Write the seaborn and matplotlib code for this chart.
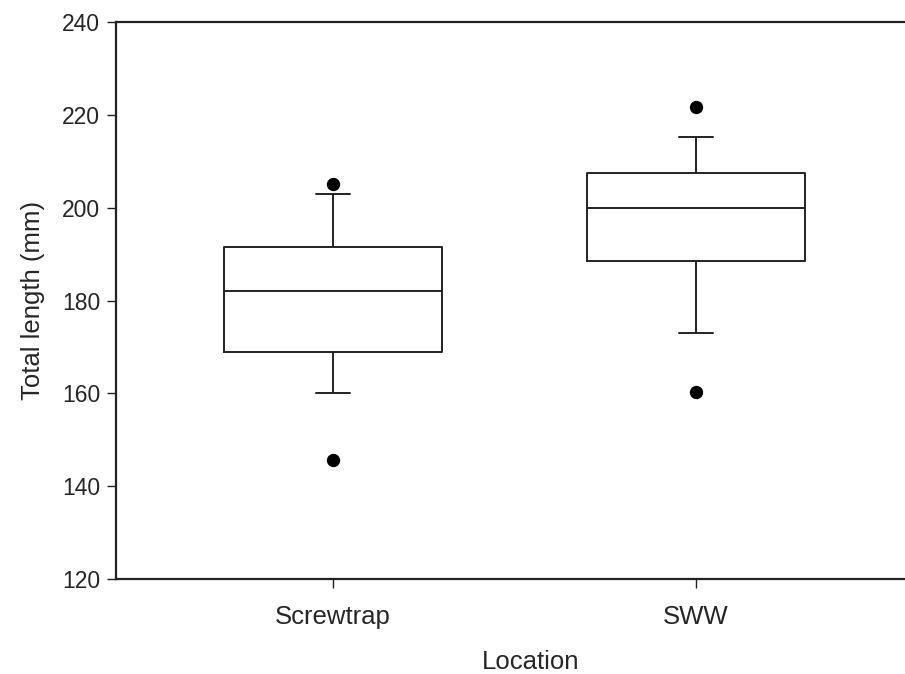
import matplotlib
matplotlib.use("Agg")
import matplotlib.pyplot as plt
import seaborn as sns
import pandas as pd

# Fish total length by capture location
categories = ["Screwtrap", "SWW"]
p10 = [160.0, 173.0]        # lower whisker ends
q1 = [169.0, 188.5]         # lower quartiles
median = [182.0, 200.0]     # medians
q3 = [191.6, 207.5]         # upper quartiles
p90 = [203.0, 215.2]        # upper whisker ends
outlier_low = [145.6, 160.2]
outlier_high = [205.1, 221.6]

y_ticks = [120, 140, 160, 180, 200, 220, 240]

# Each box is built from its five summary values, so the quartiles and the
# whisker ends (whis=(0, 100)) fall exactly on them.
box_rows = []
for i, cat in enumerate(categories):
    for v in (p10[i], q1[i], median[i], q3[i], p90[i]):
        box_rows.append({"Location": cat, "Total length (mm)": v})
box_df = pd.DataFrame(box_rows)

pt_rows = []
for i, cat in enumerate(categories):
    for v in (outlier_low[i], outlier_high[i]):
        pt_rows.append({"Location": cat, "Total length (mm)": v})
pt_df = pd.DataFrame(pt_rows)

sns.set_style("ticks")
plt.rcParams["font.family"] = ["Liberation Sans", "DejaVu Sans"]

line_color = "#222222"
fig = plt.figure(figsize=(9.05, 6.74), dpi=100)
ax = fig.add_axes([116 / 905, 1 - 579 / 674, 830 / 905, (579 - 22) / 674])

sns.boxplot(
    data=box_df, x="Location", y="Total length (mm)", order=categories,
    whis=(0, 100), width=0.6, fill=False, color=line_color, linewidth=1.4,
    capwidths=0.095, showfliers=False, ax=ax,
)
sns.stripplot(
    data=pt_df, x="Location", y="Total length (mm)", order=categories,
    jitter=False, color="black", size=9.6, linewidth=0, ax=ax, zorder=5,
)

ax.set_xlim(-0.598, 1.689)
ax.set_ylim(120, 240)
ax.set_yticks(y_ticks)

for side in ("left", "bottom", "top"):
    ax.spines[side].set_color(line_color)
    ax.spines[side].set_linewidth(1.6)
ax.spines["right"].set_visible(False)

ax.tick_params(axis="y", direction="out", length=6.5, width=1.0, color=line_color,
               labelsize=16.5, pad=5)
ax.tick_params(axis="x", direction="out", length=6.5, width=1.0, color=line_color,
               labelsize=18.5, pad=12)

ax.set_xlabel("Location", fontsize=18.5, labelpad=15)
ax.set_ylabel("Total length (mm)", fontsize=18.5, labelpad=12)

fig.savefig("out.png", dpi=100)
